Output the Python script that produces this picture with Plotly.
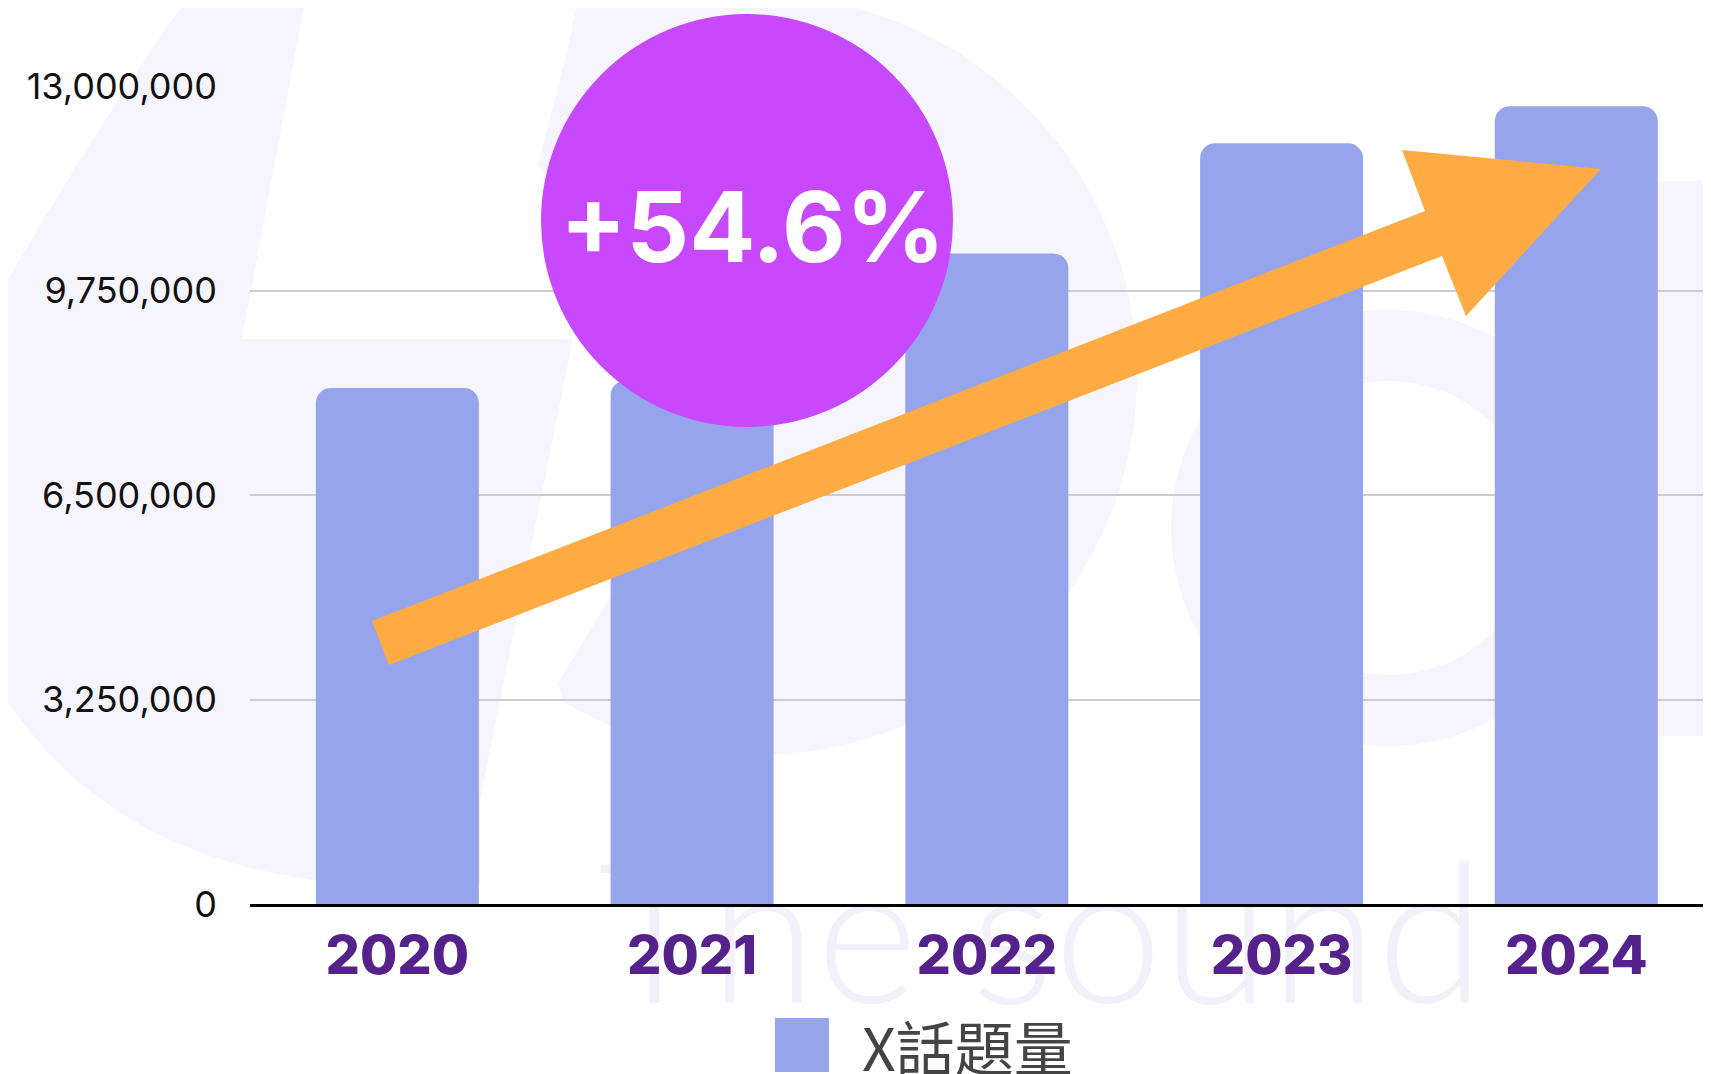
import math
import plotly.graph_objects as go

# ---------------- data ----------------
years = ["2020", "2021", "2022", "2023", "2024"]
values = [8200000, 8320000, 10340000, 12090000, 12680000]
y_tick_values = [0, 3250000, 6500000, 9750000, 13000000]
y_tick_labels = ["0", "3,250,000", "6,500,000", "9,750,000", "13,000,000"]
series_name = "X話題量"
growth_label = "+54.6%"
watermark_text = "The sound"

# ---------------- layout geometry ----------------
W, H = 1711, 1074
OFF = 8  # page body margin compensation
PLOT_L, PLOT_T, PLOT_B, PLOT_R = 250, 86, 904, 1711  # plot area in page pixels
L, T = PLOT_L - OFF, PLOT_T - OFF
R = W - (PLOT_R - OFF)
B = H - (PLOT_B - OFF)
PW, PH = PLOT_R - PLOT_L, PLOT_B - PLOT_T
X_RANGE = [-0.5, 4.457]
Y_RANGE = [0, 13000000]

BAR_COLOR = "#96A5EB"
PALE = "#F6F4FD"
WM_SIZE = 195


def px(x):
    return (x - PLOT_L) / PW


def py(y):
    return (PLOT_B - y) / PH


def path(points, close=True):
    s = ""
    for i, (x, y) in enumerate(points):
        s += ("M" if i == 0 else "L") + f"{px(x):.5f},{py(y):.5f}"
    return s + ("Z" if close else "")


def quad(p0, c, p1, n=12):
    out = []
    for i in range(1, n + 1):
        t = i / n
        out.append(((1 - t) ** 2 * p0[0] + 2 * (1 - t) * t * c[0] + t ** 2 * p1[0],
                    (1 - t) ** 2 * p0[1] + 2 * (1 - t) * t * c[1] + t ** 2 * p1[1]))
    return out


def data_x(pix):
    return X_RANGE[0] + (pix - PLOT_L) / PW * (X_RANGE[1] - X_RANGE[0])


def data_y(pix):
    return (PLOT_B - pix) / PH * (Y_RANGE[1] - Y_RANGE[0])


fig = go.Figure()

# watermark text on a hidden background subplot (drawn beneath the bar subplot)
fig.add_trace(go.Scatter(
    x=[data_x(1041)], y=[data_y(1003 - 0.75 * WM_SIZE)], mode="text", text=[watermark_text],
    textposition="bottom center",
    textfont=dict(family="Lato", size=WM_SIZE, color="#F3F0FC", weight=300),
    cliponaxis=False, showlegend=False, hoverinfo="skip", xaxis="x", yaxis="y",
))

fig.add_trace(go.Bar(
    x=list(range(len(years))), y=values, name=series_name,
    marker=dict(color=BAR_COLOR, line=dict(width=0)),
    width=0.553, showlegend=False, xaxis="x2", yaxis="y2",
))

shapes = []

# pale watermark: left blob
p1 = [(193, -10), (307, -10), (242, 339), (573, 339), (480, 800), (480, 885), (313, 880)]
p1 += quad((313, 880), (90, 850), (-10, 673))
p1.append((-10, 310))
p1 += quad((-10, 310), (100, 120), (193, -10))
shapes.append(dict(type="path", xref="paper", yref="paper", path=path(p1),
                   fillcolor=PALE, line=dict(width=0), layer="below"))

# pale watermark: middle disc
cx, cy, r = 757, 375, 380
a0 = math.degrees(math.atan2(-10 - cy, 820 - cx))
a1 = math.degrees(math.atan2(700 - cy, 565 - cx))
p2 = [(580, -10)]
n = 80
for i in range(n + 1):
    a = math.radians(a0 + (a1 - a0) * i / n)
    p2.append((cx + r * math.cos(a), cy + r * math.sin(a)))
p2 += [(558, 683), (610, 597), (700, 400), (600, 250), (538, 165), (567, 52)]
shapes.append(dict(type="path", xref="paper", yref="paper", path=path(p2),
                   fillcolor=PALE, line=dict(width=0), layer="below"))

# pale watermark: right ring and stem
shapes.append(dict(type="rect", xref="paper", yref="paper",
                   x0=px(1590), x1=px(1730), y0=py(736), y1=py(181),
                   fillcolor=PALE, line=dict(width=0), layer="below"))
shapes.append(dict(type="circle", xref="paper", yref="paper",
                   x0=px(1389 - 218), x1=px(1389 + 218), y0=py(528 + 218), y1=py(528 - 218),
                   fillcolor=PALE, line=dict(width=0), layer="below"))
shapes.append(dict(type="circle", xref="paper", yref="paper",
                   x0=px(1389 - 147), x1=px(1389 + 147), y0=py(528 + 147), y1=py(528 - 147),
                   fillcolor="white", line=dict(width=0), layer="below"))

# orange arrow
arrow = [(372, 621), (1425, 211), (1402, 150), (1601, 169), (1466, 316), (1442, 256), (389, 665)]
shapes.append(dict(type="path", xref="paper", yref="paper", path=path(arrow),
                   fillcolor="#FDAB42", line=dict(width=0), layer="above"))

# purple circle
shapes.append(dict(type="circle", xref="paper", yref="paper",
                   x0=px(541), x1=px(953), y0=py(427), y1=py(14),
                   fillcolor="#C748FD", line=dict(width=0), layer="above"))

# legend swatch
shapes.append(dict(type="rect", xref="paper", yref="paper",
                   x0=px(775), x1=px(829), y0=py(1072), y1=py(1018),
                   fillcolor=BAR_COLOR, line=dict(width=0), layer="above"))

annotations = [
    dict(text=growth_label, xref="paper", yref="paper", x=px(752), y=py(226),
         xanchor="center", yanchor="middle", showarrow=False,
         font=dict(family="Inter", size=98, color="white", weight=700)),
    dict(text=series_name, xref="paper", yref="paper", x=px(860), y=py(1045),
         xanchor="left", yanchor="middle", showarrow=False,
         font=dict(family="Noto Sans CJK TC", size=59, color="#444444")),
]

fig.update_layout(
    width=W, height=H,
    margin=dict(l=L, r=R, t=T, b=B, pad=0),
    paper_bgcolor="white", plot_bgcolor="rgba(0,0,0,0)",
    shapes=shapes, annotations=annotations,
    showlegend=False,
    xaxis=dict(range=X_RANGE, visible=False, domain=[0, 1], anchor="y"),
    yaxis=dict(range=Y_RANGE, visible=False, domain=[0, 1], anchor="x"),
    xaxis2=dict(
        range=X_RANGE, domain=[0, 1], anchor="y2",
        tickmode="array", tickvals=list(range(len(years))), ticktext=years,
        showgrid=False, zeroline=False, showline=True, linecolor="black", linewidth=3,
        ticks="", ticklabelstandoff=2,
        tickfont=dict(family="Inter", size=54, color="#55218A", weight=800),
    ),
    yaxis2=dict(
        range=Y_RANGE, domain=[0, 1], anchor="x2",
        tickmode="array", tickvals=y_tick_values, ticktext=y_tick_labels,
        showgrid=True, gridcolor="#CCCCCC", gridwidth=1.5, zeroline=False,
        showline=False, ticks="", ticklabelstandoff=32,
        tickfont=dict(family="Inter", size=36, color="#111111"),
    ),
    barcornerradius=15,
)

fig.write_html("out.html")
